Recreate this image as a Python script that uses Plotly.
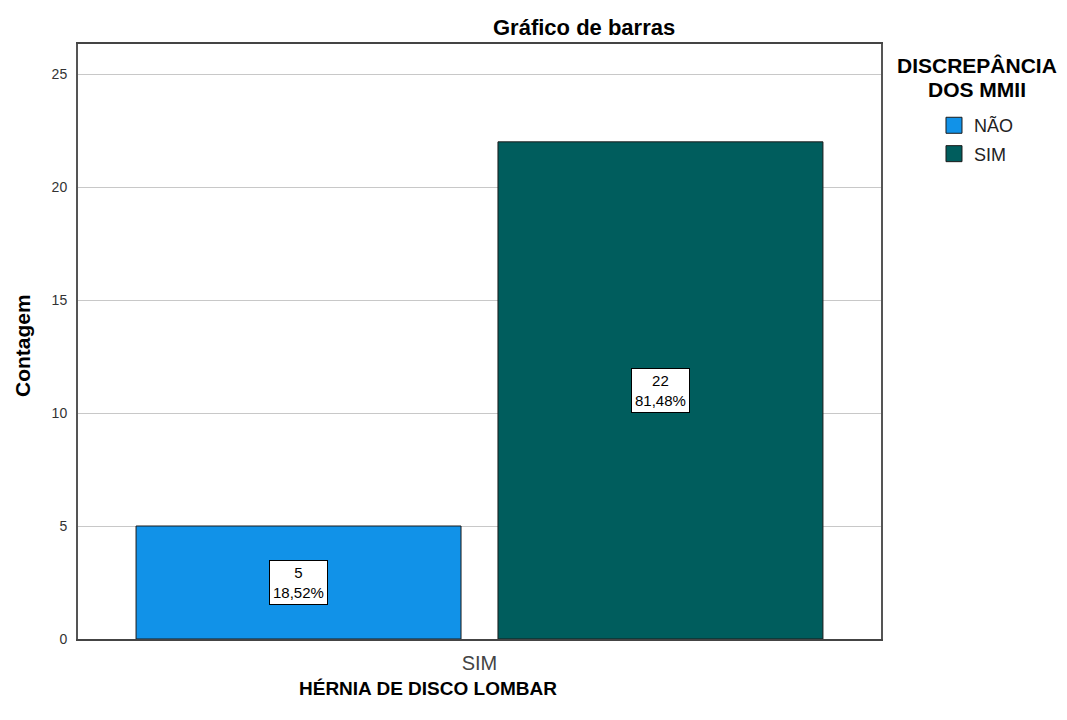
import plotly.graph_objects as go

categories = ["SIM"]
series_names = ["NÃO", "SIM"]
counts = [5, 22]
percents = ["18,52%", "81,48%"]
colors = ["#1192e8", "#005d5d"]

fig = go.Figure()
bar_width = 0.4047
offsets = [-0.4277, 0.023]
for name, c, pct, col, off in zip(series_names, counts, percents, colors, offsets):
    fig.add_trace(go.Bar(
        x=[0], y=[c], name=name, showlegend=False,
        marker=dict(color=col, line=dict(color="#1a1a1a", width=1)),
        width=bar_width, offset=off,
        hoverinfo="skip",
    ))
    fig.add_annotation(
        x=off + bar_width / 2, y=c / 2, xref="x", yref="y",
        text=f"{c}<br>{pct}",
        showarrow=False, bgcolor="white", bordercolor="black", borderwidth=1,
        borderpad=3, font=dict(family="Arial", size=15, color="black"),
    )
# legend entries (bigger square swatches than plotly's bar icon)
for name, col in zip(series_names, colors):
    fig.add_trace(go.Scatter(
        x=[None], y=[None], mode="markers", name=name, legendgroup=name,
        marker=dict(symbol="square", size=16, color=col, line=dict(color="#1a1a1a", width=1)),
        hoverinfo="skip",
    ))

# page body has an 8px margin; size the figure so the plot lands where the reference has it
fig.update_layout(
    width=1051, height=704,
    margin=dict(l=70, r=178, t=36, b=73),
    paper_bgcolor="white", plot_bgcolor="white",
    barmode="group",
    font=dict(family="Arial", color="#222"),
    showlegend=True,
    legend=dict(
        x=1.066, xanchor="left", xref="paper", y=0.894, yanchor="top",
        font=dict(family="Arial", size=18, color="#222"),
        itemwidth=30, tracegroupgap=2, bgcolor="rgba(0,0,0,0)",
        itemclick=False, itemdoubleclick=False, itemsizing="trace",
    ),
)
fig.add_annotation(text="<b>DISCREPÂNCIA</b>", xref="paper", yref="paper",
                   x=1.1195, xanchor="center", y=(639 - 66) / 595, yanchor="middle",
                   showarrow=False, font=dict(family="Arial", size=21, color="black"))
fig.add_annotation(text="<b>DOS MMII</b>", xref="paper", yref="paper",
                   x=1.1195, xanchor="center", y=(639 - 90) / 595, yanchor="middle",
                   showarrow=False, font=dict(family="Arial", size=21, color="black"))
fig.add_annotation(text="<b>Gráfico de barras</b>", xref="paper", yref="paper",
                   x=0.630, xanchor="center", y=1.0, yanchor="middle", yshift=17, showarrow=False,
                   font=dict(family="Arial", size=22, color="black"))
fig.add_annotation(text="<b>HÉRNIA DE DISCO LOMBAR</b>", xref="paper", yref="paper",
                   x=0.436, xanchor="center", y=0, yanchor="middle", yshift=-49, showarrow=False,
                   font=dict(family="Arial", size=19, color="black"))
fig.add_annotation(text="<b>Contagem</b>", xref="paper", yref="paper", textangle=-90,
                   x=(22 - 78) / 803, xanchor="center", y=(639 - 346) / 595, yanchor="middle",
                   showarrow=False, font=dict(family="Arial", size=21, color="black"))

fig.update_xaxes(
    range=[-0.5, 0.5], tickvals=[0], ticktext=categories, automargin=False,
    tickfont=dict(family="Arial", size=20, color="#444"),
    showgrid=False, zeroline=False, showline=True, linecolor="#444", linewidth=2,
    mirror=True, ticks="", ticklabelstandoff=5,
)
fig.update_yaxes(
    range=[0, 26.33], tickvals=[0, 5, 10, 15, 20, 25], automargin=False,
    tickfont=dict(family="Arial", size=14, color="#333"),
    showgrid=True, gridcolor="#c8c8c8", gridwidth=1, zeroline=False,
    showline=True, linecolor="#555", linewidth=2, mirror=True,
    ticks="", ticklabelstandoff=6,
)

fig.write_html("out.html")
